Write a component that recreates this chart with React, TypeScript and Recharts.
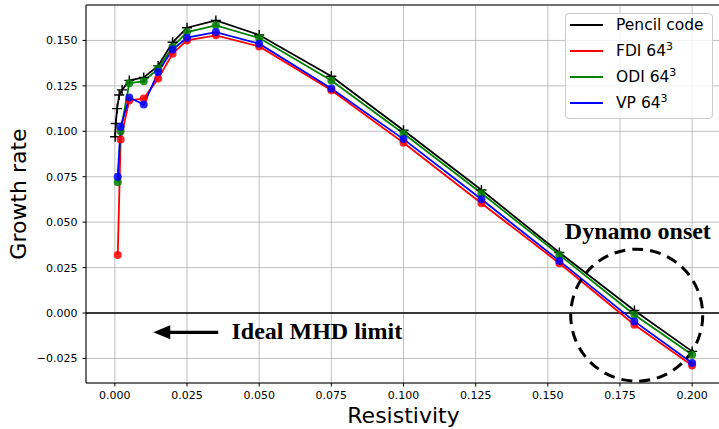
import {
  LineChart,
  Line,
  XAxis,
  YAxis,
  CartesianGrid,
  Legend,
  ReferenceLine,
  ReferenceDot,
} from "recharts";

// resistivity values of the runs
const pencilEta = [
  0.0001, 0.0003, 0.0008, 0.0015, 0.0025, 0.005, 0.01, 0.015, 0.02, 0.025,
  0.035, 0.05, 0.075, 0.1, 0.127, 0.154, 0.18, 0.2,
];
const pencilRate = [
  0.097, 0.1043, 0.1125, 0.12, 0.1228, 0.128, 0.1296, 0.136, 0.149, 0.157,
  0.161, 0.153, 0.1303, 0.1006, 0.0677, 0.0333, 0.0014, -0.0211,
];

const gridEta = [
  0.001, 0.002, 0.005, 0.01, 0.015, 0.02, 0.025, 0.035, 0.05, 0.075, 0.1,
  0.127, 0.154, 0.18, 0.2,
];
const fdiRate = [
  0.032, 0.0955, 0.117, 0.118, 0.129, 0.1427, 0.15, 0.1528, 0.1467, 0.1226,
  0.0937, 0.0604, 0.0274, -0.0064, -0.0289,
];
const odiRate = [
  0.072, 0.1, 0.1265, 0.1275, 0.1345, 0.1464, 0.1546, 0.1583, 0.1513, 0.128,
  0.0988, 0.0659, 0.032, -0.0009, -0.0229,
];
const vpRate = [
  0.075, 0.1025, 0.1186, 0.1147, 0.1326, 0.145, 0.1515, 0.1546, 0.1482,
  0.1235, 0.0957, 0.0626, 0.0287, -0.0046, -0.0275,
];

const xTicks = [0, 0.025, 0.05, 0.075, 0.1, 0.125, 0.15, 0.175, 0.2];
const yTicks = [-0.025, 0, 0.025, 0.05, 0.075, 0.1, 0.125, 0.15];
const seriesNames = ["Pencil code", "FDI 64^3", "ODI 64^3", "VP 64^3"];
const seriesColors = ["#000000", "#ff0000", "#008000", "#0000ff"];

const X_MIN = -0.01;
const X_MAX = 0.21;
const Y_MIN = -0.0385;
const Y_MAX = 0.1695;

const toPoints = (xs: number[], ys: number[]) =>
  xs.map((eta, i) => ({ eta, rate: ys[i] }));

const fmtX = (v: number) => v.toFixed(3);
const fmtY = (v: number) =>
  v < 0 ? "\u2212" + Math.abs(v).toFixed(3) : v.toFixed(3);

const circleDot = (color: string) => (props: any) => {
  const { cx, cy, index } = props;
  return (
    <circle
      key={`c-${color}-${index}`}
      cx={cx}
      cy={cy}
      r={4}
      fill={color}
      fillOpacity={0.85}
    />
  );
};

const plusDot = (props: any) => {
  const { cx, cy, index } = props;
  return (
    <path
      key={`p-${index}`}
      d={`M${cx - 5},${cy}H${cx + 5}M${cx},${cy - 5}V${cy + 5}`}
      stroke="#000"
      strokeWidth={1.4}
      fill="none"
    />
  );
};

const arrowShape = (p: any) => {
  const { x1, y1, x2, y2 } = p;
  const head = 17;
  return (
    <g>
      <line x1={x1} y1={y1} x2={x2 + head - 2} y2={y2} stroke="#000" strokeWidth={3.3} />
      <polygon
        points={`${x2},${y2} ${x2 + head},${y2 - 7} ${x2 + head},${y2 + 7}`}
        fill="#000"
      />
    </g>
  );
};

const serifBold = {
  fontFamily: "'Liberation Serif', 'DejaVu Serif', serif",
  fontWeight: 700,
  fontSize: 24,
  fill: "#000",
};

const sans = "'DejaVu Sans', sans-serif";

// legend drawn from our own series list so the order and colours stay fixed
const LegendBox = () => (
  <div
    style={{
      position: "relative",
      width: 148,
      height: 106,
      boxSizing: "border-box",
      border: "1px solid #cccccc",
      borderRadius: 4,
      background: "rgba(255,255,255,0.8)",
      fontFamily: sans,
      fontSize: 15.5,
      color: "#000",
    }}
  >
    {seriesNames.map((name, i) => {
      const [base, sup] = name.split("^");
      return (
        <div
          key={name}
          style={{
            position: "absolute",
            left: 0,
            top: -2 + 26.1 * i,
            height: 26,
            width: 148,
            display: "flex",
            alignItems: "center",
            whiteSpace: "nowrap",
          }}
        >
          <svg width={33} height={4} style={{ marginLeft: 4, display: "block" }}>
            <line x1={0} y1={2} x2={33} y2={2} stroke={seriesColors[i]} strokeWidth={1.8} />
          </svg>
          <span style={{ marginLeft: 13 }}>
            {base}
            {sup && (
              <span style={{ fontSize: 11, position: "relative", top: -6 }}>
                {sup}
              </span>
            )}
          </span>
        </div>
      );
    })}
  </div>
);

export default function App() {
  return (
    <div
      style={{
        position: "absolute",
        left: 0,
        top: 0,
        width: 719,
        height: 429,
        overflow: "hidden",
        background: "#fff",
        fontFamily: sans,
      }}
    >
      <LineChart width={721} height={429} margin={{ top: 5, right: 0, bottom: 0, left: 0 }}>
        <CartesianGrid stroke="#b0b0b0" strokeWidth={0.8} />
        <XAxis
          type="number"
          dataKey="eta"
          domain={[X_MIN, X_MAX]}
          ticks={xTicks}
          allowDataOverflow
          height={46}
          tickSize={3.5}
          tickMargin={5}
          tickFormatter={fmtX}
          stroke="#000"
          tick={{ fill: "#000", fontSize: 11, fontFamily: sans }}
          label={{
            value: "Resistivity",
            position: "insideBottom",
            offset: 6,
            style: { fontSize: 22, fill: "#000", fontFamily: sans },
          }}
        />
        <YAxis
          type="number"
          domain={[Y_MIN, Y_MAX]}
          ticks={yTicks}
          allowDataOverflow
          width={86}
          tickSize={3.5}
          tickMargin={5}
          tickFormatter={fmtY}
          stroke="#000"
          tick={{ fill: "#000", fontSize: 11, fontFamily: sans }}
          label={{
            value: "Growth rate",
            angle: -90,
            position: "insideLeft",
            offset: 18,
            textAnchor: "middle",
            style: { fontSize: 22, fill: "#000", fontFamily: sans },
          }}
        />
        <ReferenceLine y={Y_MAX} stroke="#000" strokeWidth={1} />
        <ReferenceLine y={0} stroke="#000" strokeWidth={1.5} />
        <Legend
          layout="vertical"
          align="center"
          verticalAlign="middle"
          content={<LegendBox />}
          wrapperStyle={{ left: 565, top: 13, width: 148, height: 106 }}
        />
        <Line
          data={toPoints(pencilEta, pencilRate)}
          dataKey="rate"
          name={seriesNames[0]}
          type="linear"
          stroke={seriesColors[0]}
          strokeWidth={1.8}
          dot={plusDot}
          activeDot={false}
          isAnimationActive={false}
        />
        <Line
          data={toPoints(gridEta, fdiRate)}
          dataKey="rate"
          name={seriesNames[1]}
          type="linear"
          stroke={seriesColors[1]}
          strokeWidth={1.8}
          dot={circleDot(seriesColors[1])}
          activeDot={false}
          isAnimationActive={false}
        />
        <Line
          data={toPoints(gridEta, odiRate)}
          dataKey="rate"
          name={seriesNames[2]}
          type="linear"
          stroke={seriesColors[2]}
          strokeWidth={1.8}
          dot={circleDot(seriesColors[2])}
          activeDot={false}
          isAnimationActive={false}
        />
        <Line
          data={toPoints(gridEta, vpRate)}
          dataKey="rate"
          name={seriesNames[3]}
          type="linear"
          stroke={seriesColors[3]}
          strokeWidth={1.8}
          dot={circleDot(seriesColors[3])}
          activeDot={false}
          isAnimationActive={false}
        />
        <ReferenceDot
          x={0.1808}
          y={-0.0012}
          r={66}
          fill="none"
          stroke="#000"
          strokeWidth={3}
          strokeDasharray="11 7"
        />
        <ReferenceDot
          x={0.1812}
          y={0.0406}
          r={0}
          shape={(p: any) => (
            <text x={p.cx} y={p.cy} textAnchor="middle" style={serifBold}>
              Dynamo onset
            </text>
          )}
        />
        <ReferenceDot
          x={0.0404}
          y={-0.0141}
          r={0}
          shape={(p: any) => (
            <text x={p.cx} y={p.cy} textAnchor="start" style={serifBold}>
              Ideal MHD limit
            </text>
          )}
        />
        <ReferenceLine
          segment={[
            { x: 0.0358, y: -0.0106 },
            { x: 0.0133, y: -0.0106 },
          ]}
          shape={arrowShape}
        />
      </LineChart>
    </div>
  );
}
